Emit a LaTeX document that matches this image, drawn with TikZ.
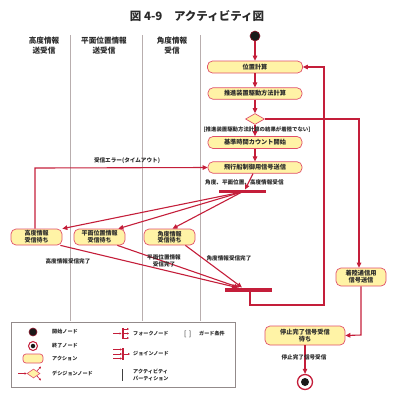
\documentclass[tikz,border=0pt]{standalone}
\usepackage{fontspec}
\setmainfont{Noto Sans CJK JP}
\usetikzlibrary{shapes.geometric,arrows.meta,calc}
\definecolor{arr}{HTML}{C41E3A}
\definecolor{boxfill}{HTML}{FFF3A6}
\definecolor{boxline}{HTML}{E0506A}
\definecolor{lane}{HTML}{B8AEAE}
\definecolor{txt}{HTML}{2A2A2A}
\begin{document}
\begin{tikzpicture}[x=1pt,y=-1pt,
  action/.style={draw=boxline, fill=boxfill, rounded corners=5pt, line width=0.7pt, align=center, inner sep=0.5pt, text=txt, font=\fontsize{6.2}{7}\selectfont\bfseries},
  waitbox/.style={action, minimum width=51pt, minimum height=16pt, font=\fontsize{6}{6.6}\selectfont\bfseries},
  lbl/.style={text=txt, inner sep=0pt, align=center, font=\fontsize{5.6}{7}\selectfont\bfseries},
  leg/.style={text=txt, inner sep=0pt, anchor=west, align=left, font=\fontsize{5.1}{6.4}\selectfont\bfseries},
  hdr/.style={text=txt, inner sep=0pt, align=center, font=\fontsize{7.6}{10}\selectfont\bfseries},
  flow/.style={draw=arr, line width=1.1pt, -{Triangle[length=5pt,width=4.5pt]}},
  plain/.style={draw=arr, line width=1.1pt},
  bar/.style={fill=arr, draw=none},
  lanel/.style={draw=lane, line width=1pt},
  smallarr/.style={draw=arr, line width=0.6pt, -{Triangle[length=2pt,width=2pt]}}
]
\useasboundingbox (0,0) rectangle (403,400);

% title
\node[text=txt, inner sep=0pt, font=\fontsize{11.5}{13}\selectfont\bfseries] (title) at (197,16) {図 4-9　アクティビティ図};

% lanes
\draw[lanel] (70,35) -- (70,321);
\draw[lanel] (142,35) -- (142,321);
\draw[lanel] (200,35) -- (200,321);
\node[hdr] (h1) at (44,46) {高度情報\\送受信};
\node[hdr] (h2) at (104,46) {平面位置情報\\送受信};
\node[hdr] (h3) at (172,46) {角度情報\\受信};

% nodes
\node[circle, fill=black!90, draw=arr!70!black, line width=0.6pt, minimum size=10pt, inner sep=0pt] (start) at (255,36) {};
\node[action, minimum width=95pt, minimum height=12pt] (a1) at (255,67) {位置計算};
\node[action, minimum width=94pt, minimum height=11.5pt] (a2) at (255,93.5) {推進装置駆動方法計算};
\node[diamond, draw=boxline, fill=boxfill, line width=0.7pt, minimum width=19pt, minimum height=11pt, inner sep=0pt] (dec) at (255,119) {};
\node[action, minimum width=94pt, minimum height=12pt] (a3) at (255,142.5) {基準時間カウント開始};
\node[action, minimum width=94pt, minimum height=11.5pt] (a4) at (255,167.5) {飛行船制御用信号送信};
\path[bar] (219,189.5) rectangle (266,193);
\coordinate (forkin) at (245,189.5);
\coordinate (forkout) at (242,192);
\node[waitbox] (w1) at (36.5,237) {高度情報\\受信待ち};
\node[waitbox] (w2) at (99.5,237) {平面位置情報\\受信待ち};
\node[waitbox] (w3) at (169.5,237) {角度情報\\受信待ち};
\path[bar] (225,287.5) rectangle (272,291.5);
\coordinate (joinin1) at (237,287.5);
\coordinate (joinin2) at (239,287.5);
\coordinate (joinin3) at (242,287.5);
\coordinate (joinout) at (250,291.5);
\node[action, minimum width=50pt, minimum height=18pt] (a5) at (361,277) {着陸通信用\\信号送信};
\node[action, minimum width=80pt, minimum height=19pt] (a6) at (305,335.5) {停止完了信号受信\\待ち};
\node[circle, draw=arr, line width=1.3pt, fill=white, minimum size=15pt, inner sep=0pt] (end) at (305,382) {};
\node[circle, fill=black!90, minimum size=8pt, inner sep=0pt] (endin) at (305,382) {};

% edges
\draw[flow] (start) -- (a1);
\draw[flow] (a1) -- (a2);
\draw[flow] (a2) -- (dec);
\draw[flow] (dec) -- (a3);
\draw[flow] (a3) -- (a4);
\draw[flow] (a4.south -| 253,0) -- (forkin);
\draw[flow] (forkout) -- (w1.north east);
\draw[flow] (forkout) -- ($(w2.north east)+(-7,0)$);
\draw[flow] (forkout) -- ($(w3.north)+(3,0)$);
\draw[flow] ($(w1.south east)+(-2,0)$) -- (joinin1);
\draw[flow] ($(w2.south east)+(-8,0)$) -- (joinin2);
\draw[flow] ($(w3.south east)+(-10,0)$) -- (joinin3);
\draw[flow] (joinout) -- (250,305) -- (324,305) -- (324,67) -- (a1.east);
\draw[flow] (dec.east) -- (359,119) -- (a5.north -| 359,0);
\draw[flow] (a5.south) -- (361,335) -- (a6.east);
\draw[flow] (a6.south) -- (end.north);
\draw[flow] (w1.north -| 35,0) -- (35,168) -- (a4.west);

% labels
\node[lbl, font=\fontsize{5.4}{7}\selectfont\bfseries] (g1) at (257,130) {[推進装置駆動方法計算の結果が着陸でない]};
\node[lbl] (l1) at (127,161) {受信エラー(タイムアウト)};
\node[lbl, anchor=west] (l2) at (205,182) {角度、平面位置、高度情報受信};
\node[lbl] (l3) at (68,261) {高度情報受信完了};
\node[lbl] (l4) at (164,260.5) {平面位置情報\\受信完了};
\node[lbl] (l5) at (229,258) {角度情報受信完了};
\node[lbl] (l6) at (304,357.5) {停止完了信号受信};

% legend
\draw[draw=lane!80!black, line width=0.8pt] (11,322) rectangle (235,387);
\node[circle, fill=black!90, draw=arr!70!black, line width=0.6pt, minimum size=8pt, inner sep=0pt] (ls) at (33,332) {};
\node[leg] (lst) at (52,332) {開始ノード};
\node[circle, draw=arr, line width=1pt, fill=white, minimum size=9pt, inner sep=0pt] (le) at (33,346) {};
\node[circle, fill=black!90, minimum size=4.5pt, inner sep=0pt] (lei) at (33,346) {};
\node[leg] (let) at (52,346) {終了ノード};
\node[draw=boxline, fill=boxfill, rounded corners=3pt, line width=0.7pt, minimum width=20pt, minimum height=9pt, inner sep=0pt] (la) at (33,358.5) {};
\node[leg] (lat) at (52,358.5) {アクション};
\node[diamond, draw=boxline, fill=boxfill, line width=0.6pt, minimum width=13pt, minimum height=9pt, inner sep=0pt] (ld) at (33.5,373.5) {};
\coordinate (ldin) at (18,373.5);
\coordinate (ldo1) at (41,366.5);
\coordinate (ldo2) at (41,380.5);
\draw[smallarr] (ldin) -- (ld.west);
\draw[smallarr] (ld.north east) -- (ldo1);
\draw[smallarr] (ld.south east) -- (ldo2);
\node[leg] (ldt) at (52,373.5) {デシジョンノード};
% fork icon
\path[bar] (121.5,328) rectangle (123.5,339);
\coordinate (lfi) at (113,333.5);
\draw[smallarr] (lfi) -- (121.5,333.5);
\draw[smallarr] (123.5,329) -- (129,329);
\draw[smallarr] (123.5,333.5) -- (129,333.5);
\draw[smallarr] (123.5,338) -- (129,338);
\node[leg] (lft) at (133,333.5) {フォークノード};
% join icon
\path[bar] (122,348) rectangle (124,360);
\draw[smallarr] (113,349.5) -- (122,349.5);
\draw[smallarr] (113,354) -- (122,354);
\draw[smallarr] (113,358.5) -- (122,358.5);
\draw[smallarr] (124,354) -- (130,354);
\node[leg] (ljt) at (133,354) {ジョインノード};
% partition icon
\draw[draw=black!75, line width=0.7pt] (122,369) -- (122,381);
\node[leg] (lpt) at (133,375) {アクティビティ\\パーティション};
% guard
\node[leg, font=\fontsize{7}{8}\selectfont] (lg) at (184,334) {[\,\,]};
\node[leg] (lgt) at (199,334) {ガード条件};
\end{tikzpicture}
\end{document}
